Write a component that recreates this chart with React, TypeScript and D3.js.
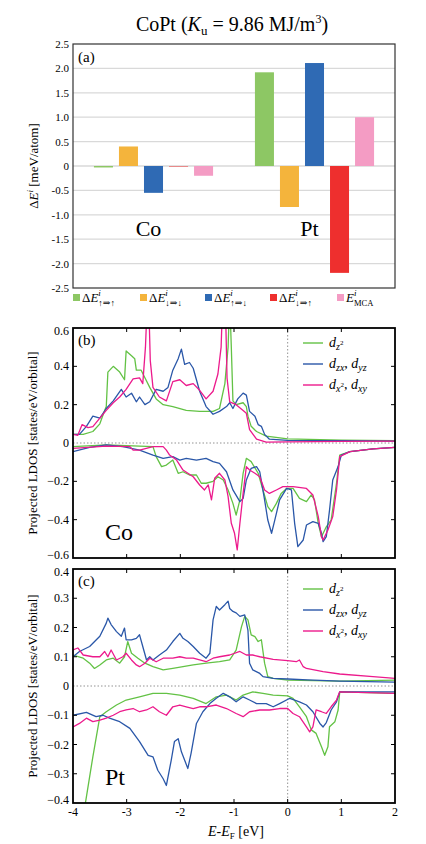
import React from "react";
import * as d3 from "d3";

// ---------- Panel (a) data ----------
const categories = ["Co", "Pt"];
const seriesKeys = ["upup", "dndn", "updn", "dnup", "mca"];
const seriesColors = ["#8DC764", "#F4B43C", "#2F6AB4", "#EE2F2E", "#F49CC4"];
const coValues = [-0.03, 0.4, -0.55, -0.01, -0.2];
const ptValues = [1.92, -0.84, 2.11, -2.19, 1.0];
const barTicks = [2.5, 2.0, 1.5, 1.0, 0.5, 0, -0.5, -1.0, -1.5, -2.0, -2.5];
const barTickLabels = ["2.5", "2.0", "1.5", "1.0", "0.5", "0", "-0.5", "-1.0", "-1.5", "-2.0", "-2.5"];

// ---------- Panel (b) Co LDOS ----------
const coUpZ2: [number, number][] = [
  [-4.0, 0.045], [-3.81, 0.045], [-3.63, 0.06], [-3.5, 0.1], [-3.41, 0.17], [-3.38, 0.19], [-3.35, 0.37],
  [-3.25, 0.4], [-3.13, 0.37], [-3.04, 0.33], [-3.01, 0.48], [-2.91, 0.455], [-2.85, 0.44], [-2.82, 0.38],
  [-2.73, 0.38], [-2.66, 0.34], [-2.57, 0.29], [-2.45, 0.23], [-2.32, 0.2], [-2.14, 0.19], [-1.89, 0.17],
  [-1.64, 0.165], [-1.39, 0.165], [-1.27, 0.18], [-1.17, 0.31], [-1.11, 0.5], [-1.08, 0.75], [-1.05, 0.5],
  [-1.02, 0.22], [-0.96, 0.2], [-0.83, 0.21], [-0.77, 0.19], [-0.74, 0.14], [-0.68, 0.087], [-0.58, 0.06],
  [-0.4, 0.036], [0, 0.022], [1, 0.015], [2, 0.012],
];
const coUpZX: [number, number][] = [
  [-4.0, 0.045], [-3.88, 0.045], [-3.75, 0.087], [-3.63, 0.14], [-3.5, 0.13], [-3.38, 0.18], [-3.25, 0.22],
  [-3.1, 0.28], [-3.01, 0.24], [-2.91, 0.26], [-2.82, 0.215], [-2.76, 0.24], [-2.66, 0.2], [-2.57, 0.215],
  [-2.45, 0.28], [-2.32, 0.27], [-2.23, 0.29], [-2.14, 0.38], [-2.04, 0.44], [-1.98, 0.49], [-1.92, 0.41],
  [-1.83, 0.42], [-1.76, 0.39], [-1.64, 0.27], [-1.52, 0.19], [-1.39, 0.15], [-1.27, 0.165], [-1.14, 0.19],
  [-1.08, 0.21], [-1.02, 0.18], [-0.93, 0.23], [-0.83, 0.26], [-0.77, 0.25], [-0.71, 0.165], [-0.61, 0.14],
  [-0.55, 0.096], [-0.49, 0.087], [-0.43, 0.045], [-0.34, 0.02], [0, 0.014], [1, 0.012], [2, 0.01],
];
const coUpX2: [number, number][] = [
  [-4.0, 0.045], [-3.91, 0.04], [-3.83, 0.096], [-3.72, 0.08], [-3.63, 0.085], [-3.5, 0.13], [-3.38, 0.17],
  [-3.25, 0.21], [-3.13, 0.24], [-3.01, 0.28], [-2.88, 0.335], [-2.76, 0.34], [-2.7, 0.31], [-2.65, 0.5],
  [-2.6, 0.85], [-2.56, 0.43], [-2.51, 0.29], [-2.39, 0.24], [-2.26, 0.22], [-2.14, 0.32], [-2.01, 0.33],
  [-1.89, 0.3], [-1.76, 0.31], [-1.64, 0.275], [-1.52, 0.23], [-1.39, 0.27], [-1.3, 0.36], [-1.24, 0.5],
  [-1.2, 0.85], [-1.17, 0.85], [-1.13, 0.34], [-1.08, 0.215], [-0.96, 0.2], [-0.83, 0.17], [-0.77, 0.155],
  [-0.71, 0.07], [-0.58, 0.02], [-0.4, 0.005], [0, 0.006], [1, 0.008], [2, 0.01],
];
const coDnZ2: [number, number][] = [
  [-4.0, -0.019], [-3.38, -0.01], [-2.76, -0.016], [-2.51, -0.019], [-2.45, -0.071], [-2.35, -0.123],
  [-2.26, -0.115], [-2.14, -0.089], [-2.04, -0.158], [-1.95, -0.15], [-1.83, -0.167], [-1.7, -0.167],
  [-1.61, -0.21], [-1.52, -0.21], [-1.39, -0.2], [-1.3, -0.176], [-1.2, -0.193], [-1.11, -0.245],
  [-1.02, -0.315], [-0.96, -0.376], [-0.89, -0.297], [-0.83, -0.158], [-0.77, -0.08], [-0.68, -0.097],
  [-0.55, -0.158], [-0.46, -0.245], [-0.37, -0.332], [-0.3, -0.358], [-0.21, -0.315], [-0.12, -0.263],
  [-0.02, -0.237], [0.1, -0.237], [0.22, -0.289], [0.35, -0.306], [0.44, -0.271], [0.5, -0.297],
  [0.57, -0.419], [0.63, -0.489], [0.72, -0.437], [0.81, -0.402], [0.91, -0.21], [0.97, -0.063],
  [1.16, -0.045], [1.59, -0.031], [2.0, -0.023],
];
const coDnZX: [number, number][] = [
  [-4.0, -0.045], [-3.69, -0.023], [-3.38, -0.01], [-3.07, -0.019], [-2.76, -0.037], [-2.51, -0.063],
  [-2.32, -0.08], [-2.14, -0.071], [-2.01, -0.089], [-1.89, -0.08], [-1.7, -0.089], [-1.52, -0.08],
  [-1.39, -0.097], [-1.27, -0.106], [-1.14, -0.15], [-1.02, -0.245], [-0.89, -0.306], [-0.83, -0.289],
  [-0.77, -0.193], [-0.68, -0.132], [-0.58, -0.123], [-0.52, -0.15], [-0.43, -0.297], [-0.37, -0.402],
  [-0.3, -0.471], [-0.24, -0.402], [-0.15, -0.297], [-0.02, -0.237], [0.07, -0.245], [0.13, -0.419],
  [0.19, -0.541], [0.29, -0.506], [0.35, -0.428], [0.47, -0.41], [0.57, -0.419], [0.63, -0.471],
  [0.66, -0.515], [0.72, -0.489], [0.78, -0.35], [0.84, -0.193], [0.94, -0.123], [1.0, -0.063],
  [1.16, -0.045], [1.59, -0.031], [2.0, -0.023],
];
const coDnX2: [number, number][] = [
  [-4.0, -0.028], [-3.38, -0.016], [-2.94, -0.019], [-2.88, -0.037], [-2.76, -0.037], [-2.51, -0.019],
  [-2.32, -0.019], [-2.26, -0.037], [-2.2, -0.063], [-2.07, -0.089], [-1.95, -0.141], [-1.76, -0.176],
  [-1.64, -0.219], [-1.55, -0.245], [-1.48, -0.219], [-1.42, -0.297], [-1.36, -0.184], [-1.27, -0.158],
  [-1.17, -0.193], [-1.11, -0.28], [-1.05, -0.419], [-0.99, -0.471], [-0.94, -0.558], [-0.89, -0.419],
  [-0.83, -0.263], [-0.77, -0.123], [-0.71, -0.141], [-0.61, -0.158], [-0.52, -0.176], [-0.43, -0.245],
  [-0.34, -0.263], [-0.21, -0.245], [-0.09, -0.228], [0.1, -0.228], [0.35, -0.237], [0.47, -0.271],
  [0.57, -0.384], [0.63, -0.489], [0.66, -0.506], [0.75, -0.454], [0.84, -0.384], [0.91, -0.245],
  [0.97, -0.071], [1.16, -0.045], [1.59, -0.031], [2.0, -0.023],
];

// ---------- Panel (c) Pt LDOS ----------
const ptUpZ2: [number, number][] = [
  [-4.0, 0.106], [-3.81, 0.095], [-3.69, 0.078], [-3.6, 0.06], [-3.5, 0.072], [-3.38, 0.089], [-3.25, 0.095],
  [-3.13, 0.078], [-3.04, 0.1], [-2.98, 0.152], [-2.91, 0.112], [-2.79, 0.095], [-2.66, 0.078], [-2.51, 0.066],
  [-2.32, 0.055], [-2.14, 0.06], [-1.95, 0.066], [-1.76, 0.072], [-1.52, 0.078], [-1.27, 0.083], [-1.08, 0.089],
  [-0.96, 0.123], [-0.86, 0.203], [-0.8, 0.238], [-0.74, 0.226], [-0.68, 0.175], [-0.61, 0.169], [-0.55, 0.152],
  [-0.49, 0.158], [-0.43, 0.078], [-0.37, 0.032], [-0.27, 0.026], [0, 0.02], [0.97, 0.017], [2.0, 0.02],
];
const ptUpZX: [number, number][] = [
  [-4.0, 0.1], [-3.88, 0.118], [-3.69, 0.135], [-3.5, 0.17], [-3.38, 0.215], [-3.35, 0.232], [-3.29, 0.21],
  [-3.19, 0.186], [-3.1, 0.17], [-3.04, 0.198], [-3.01, 0.158], [-2.91, 0.158], [-2.82, 0.163], [-2.76, 0.175],
  [-2.7, 0.135], [-2.63, 0.089], [-2.57, 0.1], [-2.51, 0.089], [-2.39, 0.106], [-2.26, 0.123], [-2.14, 0.152],
  [-2.01, 0.18], [-1.95, 0.163], [-1.86, 0.152], [-1.76, 0.135], [-1.64, 0.112], [-1.52, 0.095], [-1.45, 0.112],
  [-1.39, 0.226], [-1.33, 0.272], [-1.27, 0.26], [-1.17, 0.278], [-1.11, 0.29], [-1.08, 0.265], [-1.02, 0.255],
  [-0.96, 0.25], [-0.89, 0.238], [-0.8, 0.243], [-0.74, 0.19], [-0.71, 0.078], [-0.65, 0.055], [-0.52, 0.043],
  [-0.46, 0.032], [-0.27, 0.026], [0, 0.024], [0.37, 0.021], [0.97, 0.017], [2.0, 0.013],
];
const ptUpX2: [number, number][] = [
  [-4.0, 0.123], [-3.91, 0.13], [-3.81, 0.106], [-3.63, 0.1], [-3.5, 0.1], [-3.41, 0.118], [-3.35, 0.1],
  [-3.29, 0.123], [-3.19, 0.089], [-3.07, 0.1], [-3.01, 0.112], [-2.91, 0.089], [-2.82, 0.072], [-2.76, 0.066],
  [-2.66, 0.078], [-2.57, 0.095], [-2.45, 0.083], [-2.32, 0.095], [-2.14, 0.095], [-2.01, 0.1], [-1.89, 0.095],
  [-1.76, 0.095], [-1.64, 0.089], [-1.52, 0.083], [-1.39, 0.095], [-1.27, 0.1], [-1.08, 0.106], [-0.89, 0.118],
  [-0.77, 0.106], [-0.65, 0.106], [-0.52, 0.1], [-0.27, 0.091], [0, 0.087], [0.16, 0.083], [0.22, 0.089],
  [0.29, 0.066], [0.35, 0.06], [0.66, 0.049], [0.97, 0.041], [1.59, 0.032], [2.0, 0.026],
];
const ptDnZ2: [number, number][] = [
  [-4.0, -0.66], [-3.76, -0.39], [-3.63, -0.242], [-3.5, -0.105], [-3.38, -0.088], [-3.19, -0.065],
  [-3.01, -0.048], [-2.76, -0.037], [-2.51, -0.025], [-2.26, -0.025], [-2.01, -0.031], [-1.76, -0.042],
  [-1.52, -0.06], [-1.33, -0.037], [-1.14, -0.031], [-0.96, -0.048], [-0.83, -0.031], [-0.65, -0.02],
  [-0.46, -0.025], [-0.27, -0.031], [0, -0.034], [0.1, -0.042], [0.22, -0.071], [0.35, -0.105], [0.44, -0.15],
  [0.53, -0.162], [0.63, -0.208], [0.69, -0.237], [0.75, -0.208], [0.78, -0.139], [0.88, -0.122],
  [0.94, -0.082], [0.97, -0.02], [2.0, -0.025],
];
const ptDnZX: [number, number][] = [
  [-4.0, -0.1], [-3.75, -0.09], [-3.57, -0.105], [-3.44, -0.1], [-3.32, -0.11], [-3.13, -0.122], [-2.94, -0.145],
  [-2.76, -0.19], [-2.6, -0.237], [-2.51, -0.242], [-2.42, -0.288], [-2.32, -0.317], [-2.26, -0.34],
  [-2.17, -0.254], [-2.11, -0.19], [-2.04, -0.18], [-1.98, -0.225], [-1.86, -0.282], [-1.8, -0.23],
  [-1.7, -0.128], [-1.58, -0.088], [-1.45, -0.06], [-1.33, -0.042], [-1.2, -0.025], [-1.08, -0.037],
  [-0.96, -0.054], [-0.83, -0.037], [-0.71, -0.048], [-0.58, -0.06], [-0.4, -0.06], [-0.27, -0.071],
  [-0.15, -0.06], [0.04, -0.042], [0.22, -0.054], [0.35, -0.065], [0.47, -0.088], [0.6, -0.128], [0.66, -0.14],
  [0.72, -0.125], [0.81, -0.082], [0.91, -0.054], [0.97, -0.02], [2.0, -0.02],
];
const ptDnX2: [number, number][] = [
  [-4.0, -0.14], [-3.88, -0.128], [-3.75, -0.11], [-3.63, -0.122], [-3.5, -0.117], [-3.38, -0.11], [-3.25, -0.1],
  [-3.13, -0.088], [-3.01, -0.082], [-2.88, -0.077], [-2.76, -0.088], [-2.63, -0.082], [-2.51, -0.071],
  [-2.39, -0.088], [-2.26, -0.1], [-2.14, -0.071], [-2.01, -0.065], [-1.89, -0.071], [-1.76, -0.077],
  [-1.64, -0.071], [-1.52, -0.071], [-1.33, -0.065], [-1.14, -0.077], [-0.96, -0.094], [-0.83, -0.105],
  [-0.71, -0.088], [-0.52, -0.082], [-0.34, -0.082], [-0.15, -0.077], [0, -0.077], [0.1, -0.094],
  [0.22, -0.105], [0.35, -0.14], [0.41, -0.157], [0.47, -0.14], [0.53, -0.082], [0.63, -0.088], [0.72, -0.094],
  [0.81, -0.071], [0.91, -0.048], [0.97, -0.02], [2.0, -0.025],
];

const energyTicks = [-4, -3, -2, -1, 0, 1, 2];
const coTicks = [0.6, 0.4, 0.2, 0, -0.2, -0.4, -0.6];
const ptTicks = [0.4, 0.3, 0.2, 0.1, 0, -0.1, -0.2, -0.3, -0.4];
const orbitalColors = ["#63C245", "#2A57A8", "#EC1A8C"];

const FONT = "'Liberation Serif', 'Times New Roman', 'DejaVu Serif', serif";

// layout
const L = 73, R = 395;
const aTop = 44, aBottom = 288;
const bTop = 328, bBottom = 558;
const cTop = 569, cBottom = 803;

const xE = d3.scaleLinear().domain([-4, 2]).range([L, R]);

function fmt(v: number) {
  if (v === 0) return "0";
  return d3.format(".1f")(v);
}

function BarLegendItem({ x, color, kind }: { x: number; color: string; kind: string }) {
  const y = 302;
  return (
    <g>
      <rect x={x} y={y - 8} width={7} height={7} fill={color} />
      <text x={x + 9} y={y} fontSize={13} style={{ fontFamily: FONT }}>
        {kind === "mca" ? (
          <>
            <tspan fontStyle="italic">E</tspan>
            <tspan fontSize={9} fontStyle="italic" dy={-6}>i</tspan>
            <tspan fontSize={8.5} dx={-2.5} dy={10}>MCA</tspan>
          </>
        ) : (
          <>
            <tspan>Δ</tspan>
            <tspan fontStyle="italic">E</tspan>
            <tspan fontSize={9} fontStyle="italic" dy={-6}>i</tspan>
            <tspan fontSize={9} dx={-2.5} dy={10}>{kind}</tspan>
          </>
        )}
      </text>
    </g>
  );
}

function OrbitalLegend({ top }: { top: number }) {
  const rows = [0, 21, 42];
  return (
    <g style={{ fontFamily: FONT }} fontSize={14}>
      {orbitalColors.map((c, i) => (
        <line key={i} x1={303} x2={323} y1={top + rows[i]} y2={top + rows[i]} stroke={c} strokeWidth={1.4} />
      ))}
      <text x={329} y={top + rows[0] + 4}>
        <tspan fontStyle="italic">d</tspan>
        <tspan fontStyle="italic" fontSize={10} dy={3}>z</tspan>
        <tspan fontSize={7} dy={-5}>2</tspan>
      </text>
      <text x={329} y={top + rows[1] + 4}>
        <tspan fontStyle="italic">d</tspan>
        <tspan fontStyle="italic" fontSize={10} dy={3}>zx</tspan>
        <tspan dy={-3}>, </tspan>
        <tspan fontStyle="italic">d</tspan>
        <tspan fontStyle="italic" fontSize={10} dy={3}>yz</tspan>
      </text>
      <text x={329} y={top + rows[2] + 4}>
        <tspan fontStyle="italic">d</tspan>
        <tspan fontStyle="italic" fontSize={10} dy={3}>x</tspan>
        <tspan fontSize={7} dy={-5}>2</tspan>
        <tspan dy={2}>, </tspan>
        <tspan fontStyle="italic">d</tspan>
        <tspan fontStyle="italic" fontSize={10} dy={3}>xy</tspan>
      </text>
    </g>
  );
}

function LdosPanel({
  id, top, bottom, domain, ticks, up, dn, label, element, legendTop, showX,
}: {
  id: string; top: number; bottom: number; domain: [number, number]; ticks: number[];
  up: [number, number][][]; dn: [number, number][][]; label: string; element: string; legendTop: number; showX: boolean;
}) {
  const y = d3.scaleLinear().domain(domain).range([bottom, top]);
  const line = d3.line<[number, number]>().x((d) => xE(d[0])).y((d) => y(d[1]));
  const innerX = energyTicks.slice(1, -1);
  const innerY = ticks.slice(1, -1).filter((t) => t !== 0);
  const labelOffset = (i: number) => (i === 0 ? 7 : i === ticks.length - 1 ? 1 : 4);
  return (
    <g>
      <defs>
        <clipPath id={id}>
          <rect x={L} y={top} width={R - L} height={bottom - top} />
        </clipPath>
      </defs>
      <line x1={L} x2={R} y1={y(0)} y2={y(0)} stroke="#777" strokeWidth={0.8} strokeDasharray="1.5,2" />
      <line x1={xE(0)} x2={xE(0)} y1={top} y2={bottom} stroke="#777" strokeWidth={0.8} strokeDasharray="1.5,2" />
      <g clipPath={`url(#${id})`} fill="none" strokeWidth={1.3} strokeLinejoin="round">
        {up.map((d, i) => (
          <path key={"u" + i} d={line(d) || ""} stroke={orbitalColors[i]} />
        ))}
        {dn.map((d, i) => (
          <path key={"d" + i} d={line(d) || ""} stroke={orbitalColors[i]} />
        ))}
      </g>
      {innerX.map((t) => (
        <g key={"xt" + t} stroke="#000" strokeWidth={1}>
          <line x1={xE(t)} x2={xE(t)} y1={top} y2={top + 4} />
          <line x1={xE(t)} x2={xE(t)} y1={bottom} y2={bottom - 4} />
        </g>
      ))}
      {innerY.map((t) => (
        <g key={"yt" + t} stroke="#000" strokeWidth={1}>
          <line x1={L} x2={L + 4} y1={y(t)} y2={y(t)} />
          <line x1={R} x2={R - 4} y1={y(t)} y2={y(t)} />
        </g>
      ))}
      <rect x={L} y={top} width={R - L} height={bottom - top} fill="none" stroke="#000" strokeWidth={1.8} />
      {ticks.map((t, i) => (
        <text key={"yl" + t} x={L - 4} y={y(t) + labelOffset(i)} textAnchor="end" fontSize={12} style={{ fontFamily: FONT }}>
          {fmt(t)}
        </text>
      ))}
      {showX &&
        energyTicks.map((t) => (
          <text key={"xl" + t} x={xE(t)} y={bottom + 13} textAnchor="middle" fontSize={12} style={{ fontFamily: FONT }}>
            {t}
          </text>
        ))}
      <text x={L + 5} y={top + 17} fontSize={15} style={{ fontFamily: FONT }}>{label}</text>
      <text x={105} y={bottom - 18} fontSize={24} style={{ fontFamily: FONT }}>{element}</text>
      <text
        transform={`translate(37,${(top + bottom) / 2}) rotate(-90)`}
        textAnchor="middle"
        fontSize={13}
        style={{ fontFamily: FONT }}
      >
        Projected LDOS [states/eV/orbital]
      </text>
      <OrbitalLegend top={legendTop} />
    </g>
  );
}

export default function App() {
  const yA = d3.scaleLinear().domain([-2.5, 2.5]).range([aBottom, aTop]);
  const xOuter = d3.scaleBand<string>().domain(categories).range([L, R]);
  const bw = xOuter.bandwidth();
  const xInner = d3
    .scaleBand<string>()
    .domain(seriesKeys)
    .range([bw * 0.13, bw * 0.87])
    .paddingInner(0.24)
    .paddingOuter(0);
  const groups = [coValues, ptValues];
  const legendKinds = ["↑⇒↑", "↓⇒↓", "↑⇒↓", "↓⇒↑", "mca"];
  const legendX = [73, 140, 205, 270, 337];

  return (
    <svg
      width={426}
      height={844}
      style={{ position: "absolute", left: 0, top: 0, background: "#fff", fontFamily: FONT }}
    >
      <rect width={426} height={844} fill="#fff" />
      <text x={232} y={31} fontSize={20} textAnchor="middle">
        CoPt (<tspan fontStyle="italic">K</tspan>
        <tspan fontSize={13} dy={4}>u</tspan>
        <tspan dy={-4}> = 9.86 MJ/m</tspan>
        <tspan fontSize={12} dy={-8}>3</tspan>
        <tspan dy={8}>)</tspan>
      </text>

      {barTicks.slice(1, -1).map((t) => (
        <line key={"g" + t} x1={L} x2={R} y1={yA(t)} y2={yA(t)} stroke="#d9d9d9" strokeWidth={1.3} />
      ))}
      {groups.map((vals, gi) =>
        vals.map((v, si) => (
          <rect
            key={gi + "-" + si}
            x={(xOuter(categories[gi]) || 0) + (xInner(seriesKeys[si]) || 0)}
            y={yA(Math.max(0, v))}
            width={xInner.bandwidth()}
            height={Math.abs(yA(v) - yA(0))}
            fill={seriesColors[si]}
          />
        ))
      )}
      <rect x={L} y={aTop} width={R - L} height={aBottom - aTop} fill="none" stroke="#333" strokeWidth={1.2} />
      {barTicks.map((t, i) => (
        <text key={"at" + t} x={L - 4} y={yA(t) + 4} fontSize={11} textAnchor="end">
          {barTickLabels[i]}
        </text>
      ))}
      <text x={L + 5} y={62} fontSize={15}>(a)</text>
      <text x={(xOuter("Co") || 0) + bw / 2 - 5} y={236} fontSize={22} textAnchor="middle">Co</text>
      <text x={(xOuter("Pt") || 0) + bw / 2 - 5} y={236} fontSize={22} textAnchor="middle">Pt</text>
      <text transform={`translate(38,${(aTop + aBottom) / 2}) rotate(-90)`} textAnchor="middle" fontSize={13}>
        Δ<tspan fontStyle="italic">E</tspan>
        <tspan fontSize={9} fontStyle="italic" dy={-5}>i</tspan>
        <tspan dy={5}> [meV/atom]</tspan>
      </text>
      {legendKinds.map((k, i) => (
        <BarLegendItem key={k} x={legendX[i]} color={seriesColors[i]} kind={k} />
      ))}

      <LdosPanel
        id="clipB"
        top={bTop}
        bottom={bBottom}
        domain={[-0.6, 0.6]}
        ticks={coTicks}
        up={[coUpZ2, coUpZX, coUpX2]}
        dn={[coDnZ2, coDnZX, coDnX2]}
        label="(b)"
        element="Co"
        legendTop={343}
        showX={false}
      />
      <LdosPanel
        id="clipC"
        top={cTop}
        bottom={cBottom}
        domain={[-0.4, 0.4]}
        ticks={ptTicks}
        up={[ptUpZ2, ptUpZX, ptUpX2]}
        dn={[ptDnZ2, ptDnZX, ptDnX2]}
        label="(c)"
        element="Pt"
        legendTop={589}
        showX={true}
      />
      <text x={236} y={836} fontSize={14} textAnchor="middle">
        <tspan fontStyle="italic">E</tspan>-<tspan fontStyle="italic">E</tspan>
        <tspan fontSize={9} dy={3}>F</tspan>
        <tspan dy={-3}> [eV]</tspan>
      </text>
    </svg>
  );
}
